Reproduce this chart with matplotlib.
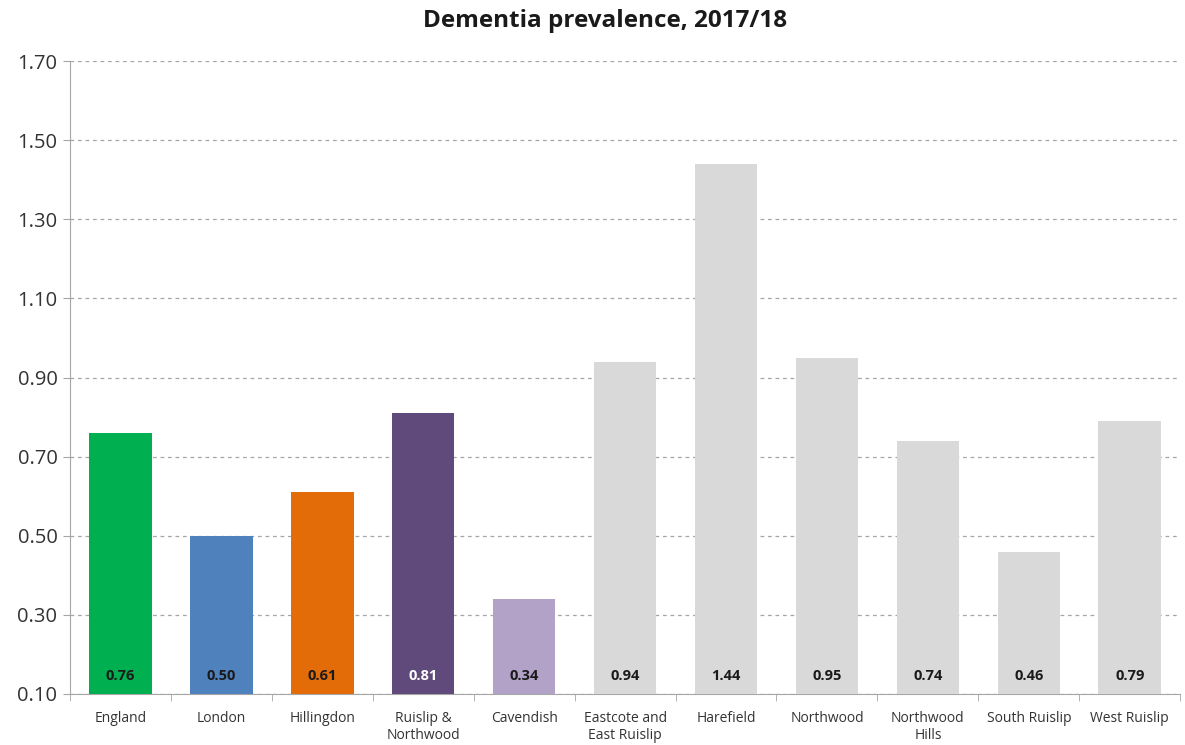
import numpy as np
import matplotlib.pyplot as plt

plt.rcParams['font.family'] = ['Open Sans', 'DejaVu Sans']

areas = ["England", "London", "Hillingdon", "Ruislip &\nNorthwood", "Cavendish",
         "Eastcote and\nEast Ruislip", "Harefield", "Northwood", "Northwood\nHills",
         "South Ruislip", "West Ruislip"]
values = [0.76, 0.50, 0.61, 0.81, 0.34, 0.94, 1.44, 0.95, 0.74, 0.46, 0.79]
colors = ["#00B050", "#4F81BD", "#E36C09", "#604A7B", "#B3A2C7"] + ["#D9D9D9"] * 6
label_colors = ["#1a1a1a", "#1a1a1a", "#1a1a1a", "white", "#1a1a1a"] + ["#1a1a1a"] * 6
yticks = [0.10, 0.30, 0.50, 0.70, 0.90, 1.10, 1.30, 1.50, 1.70]

fig = plt.figure(figsize=(11.85, 7.45), dpi=100)
ax = fig.add_axes([0.059, 0.0685, 0.937, 0.8495])

x = np.arange(len(areas))
ax.bar(x, [v - 0.10 for v in values], bottom=0.10, width=0.62, color=colors, zorder=3)

for xi, v, c in zip(x, values, label_colors):
    ax.text(xi, 0.145, f"{v:.2f}", ha="center", va="center", fontsize=10.5,
            fontweight="bold", color=c, zorder=4)

ax.set_ylim(0.10, 1.70)
ax.set_xlim(-0.5, len(areas) - 0.5)
ax.set_yticks(yticks)
ax.set_yticklabels([f"{t:.2f}" for t in yticks], fontsize=14.5, color="#333333")
ax.yaxis.grid(True, linestyle=(0, (3, 3)), color="#a6a6a6", linewidth=0.9, zorder=0)

ax.set_xticks(x)
ax.set_xticklabels(areas, fontsize=10, color="#333333")
ax.tick_params(axis="x", length=0, pad=12)
ax.set_xticks(np.arange(-0.5, len(areas)), minor=True)
ax.tick_params(axis="x", which="minor", length=5, color="#a6a6a6")
ax.tick_params(axis="y", length=5, color="#a6a6a6", pad=4)

for s in ["top", "right"]:
    ax.spines[s].set_visible(False)
ax.spines["left"].set_color("#a6a6a6")
ax.spines["bottom"].set_color("#a6a6a6")

fig.text(0.511, 0.972, "Dementia prevalence, 2017/18", ha="center", va="center",
         fontsize=17.5, fontweight="bold", color="#1a1a1a")

fig.savefig("out.png", dpi=100)
